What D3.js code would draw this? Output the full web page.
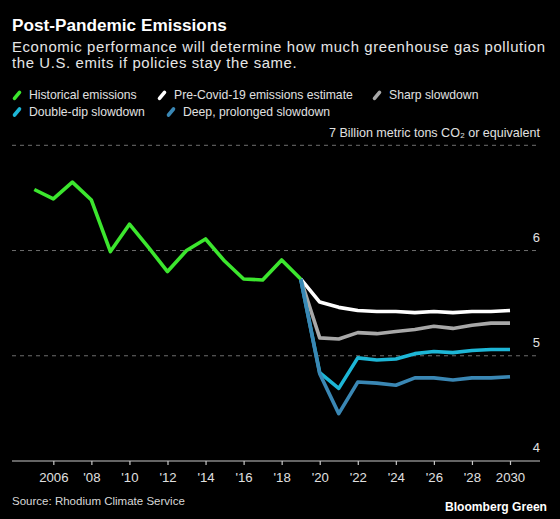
<!DOCTYPE html>
<html>
<head>
<meta charset="utf-8">
<script src="https://cdn.jsdelivr.net/npm/d3@7"></script>
<style>
  html, body { margin: 0; padding: 0; background: #000; }
  svg { display: block; }
  text { font-family: "Liberation Sans", Arial, Helvetica, sans-serif; }
</style>
</head>
<body>
<svg id="chart" width="560" height="519"></svg>
<script>
// ---- Data ----
const histYears = [2005, 2006, 2007, 2008, 2009, 2010, 2011, 2012, 2013, 2014, 2015, 2016, 2017, 2018, 2019];
const historical = [6.58, 6.49, 6.65, 6.48, 5.99, 6.25, 6.03, 5.80, 6.00, 6.11, 5.90, 5.73, 5.72, 5.91, 5.73];

const projYears = [2019, 2020, 2021, 2022, 2023, 2024, 2025, 2026, 2027, 2028, 2029, 2030];
const preCovid  = [5.73, 5.51, 5.46, 5.43, 5.42, 5.42, 5.41, 5.42, 5.41, 5.42, 5.42, 5.43];
const sharp     = [5.73, 5.17, 5.16, 5.22, 5.21, 5.23, 5.25, 5.28, 5.26, 5.29, 5.31, 5.31];
const doubleDip = [5.73, 4.84, 4.69, 4.98, 4.96, 4.97, 5.02, 5.04, 5.03, 5.05, 5.06, 5.06];
const deep      = [5.73, 4.83, 4.45, 4.75, 4.74, 4.72, 4.79, 4.79, 4.77, 4.79, 4.79, 4.80];

const seriesNames = ["Historical emissions", "Pre-Covid-19 emissions estimate", "Sharp slowdown", "Double-dip slowdown", "Deep, prolonged slowdown"];
const xTickYears = [2006, 2008, 2010, 2012, 2014, 2016, 2018, 2020, 2022, 2024, 2026, 2028, 2030];
const yTicks = [4, 5, 6, 7];

const title = "Post-Pandemic Emissions";
const subtitle = ["Economic performance will determine how much greenhouse gas pollution", "the U.S. emits if policies stay the same."];
const unitLabel = "Billion metric tons CO₂ or equivalent";
const source = "Source: Rhodium Climate Service";
const brand = "Bloomberg Green";

// ---- Styles ----
const colors = ["#3ce62e", "#ffffff", "#a8a8a8", "#1db6d6", "#3a87b4"];

const svg = d3.select("#chart");
svg.append("rect").attr("width", 560).attr("height", 519).attr("fill", "#000");

function fit(sel, target, maxSize) {
  const n = sel.node();
  const len = n.getComputedTextLength();
  const fs = parseFloat(sel.attr("font-size"));
  let nfs = fs * target / len;
  if (maxSize) nfs = Math.min(nfs, maxSize);
  sel.attr("font-size", nfs.toFixed(2));
  return nfs;
}

// Title & subtitle
const t = svg.append("text").attr("x", 12).attr("y", 30.7).attr("fill", "#fff")
  .attr("font-weight", "bold").attr("font-size", 17).text(title);
fit(t, 215);
const s1 = svg.append("text").attr("x", 12).attr("y", 51.5).attr("fill", "#e6e6e6")
  .attr("font-size", 14.9).text(subtitle[0]);
const s1len = s1.node().getComputedTextLength();
const ls = Math.max(0, (533 - s1len) / (subtitle[0].length - 1));
s1.attr("letter-spacing", ls.toFixed(3));
svg.append("text").attr("x", 12).attr("y", 67.5).attr("fill", "#e6e6e6")
  .attr("font-size", 14.9).attr("letter-spacing", ls.toFixed(3)).text(subtitle[1]);

// Legend
const legendPos = [[13, 99.3], [158, 99.3], [373, 99.3], [13, 116], [167, 116]];
seriesNames.forEach((name, i) => {
  const [lx, ly] = legendPos[i];
  svg.append("line")
    .attr("x1", lx + 1.5).attr("y1", ly - 1)
    .attr("x2", lx + 6.5).attr("y2", ly - 7)
    .attr("stroke", colors[i]).attr("stroke-width", 3.6).attr("stroke-linecap", "round");
  svg.append("text").attr("x", lx + 16).attr("y", ly).attr("fill", "#e0e0e0")
    .attr("font-size", 12.2).text(name);
});

// Scales
const x = d3.scaleLinear().domain([2005, 2030]).range([34.3, 510]);
const y = d3.scaleLinear().domain([4, 7]).range([461, 145.3]);

// Gridlines
const grid = svg.append("g");
yTicks.filter(v => v > 4).forEach(v => {
  grid.append("line").attr("x1", 12).attr("x2", 540)
    .attr("y1", y(v)).attr("y2", y(v))
    .attr("stroke", "#6e6e6e").attr("stroke-width", 1).attr("stroke-dasharray", "4,4");
});

// Y labels
yTicks.filter(v => v < 7).forEach(v => {
  svg.append("text").attr("x", 540).attr("y", y(v) - 9).attr("text-anchor", "end")
    .attr("fill", "#e0e0e0").attr("font-size", 13).text(v);
});
const ul = svg.append("text").attr("x", 540).attr("y", y(7) - 8).attr("text-anchor", "end")
  .attr("fill", "#e0e0e0").attr("font-size", 12.2).text(yTicks[3] + " " + unitLabel);
fit(ul, 211);

// X axis
const xAxis = d3.axisBottom(x).tickValues(xTickYears).tickSize(4).tickPadding(6)
  .tickFormat(d => (d === 2006 || d === 2030) ? String(d) : "'" + String(d).slice(2));
const ax = svg.append("g").attr("transform", `translate(0,${y(4)})`).call(xAxis);
ax.select(".domain").remove();
ax.append("line").attr("x1", 12).attr("x2", 540).attr("y1", 0).attr("y2", 0)
  .attr("stroke", "#c8c8c8").attr("stroke-width", 1.2);
ax.selectAll(".tick line").attr("stroke", "#c8c8c8").attr("stroke-width", 1.2);
ax.selectAll(".tick text").attr("fill", "#e0e0e0").attr("font-size", 13.2)
  .attr("font-family", "'Liberation Sans', Arial, Helvetica, sans-serif")
  .attr("dy", null).attr("y", 21);

// Lines
const line = d3.line().x(d => x(d[0])).y(d => y(d[1]));
const projSeries = [preCovid, sharp, doubleDip, deep];
projSeries.forEach((vals, k) => {
  svg.append("path")
    .datum(projYears.map((yr, i) => [yr, vals[i]]))
    .attr("d", line).attr("fill", "none")
    .attr("stroke", colors[k + 1]).attr("stroke-width", 3.6)
    .attr("stroke-linejoin", "round");
});
svg.append("path")
  .datum(histYears.map((yr, i) => [yr, historical[i]]))
  .attr("d", line).attr("fill", "none")
  .attr("stroke", colors[0]).attr("stroke-width", 3.6)
  .attr("stroke-linejoin", "round");

// Footer
const src = svg.append("text").attr("x", 12).attr("y", 505).attr("fill", "#d8d8d8")
  .attr("font-size", 12).text(source);
fit(src, 173);
const br = svg.append("text").attr("x", 547).attr("y", 511).attr("text-anchor", "end")
  .attr("fill", "#fff").attr("font-weight", "bold").attr("font-size", 12.5).text(brand);
fit(br, 102);
</script>
</body>
</html>
